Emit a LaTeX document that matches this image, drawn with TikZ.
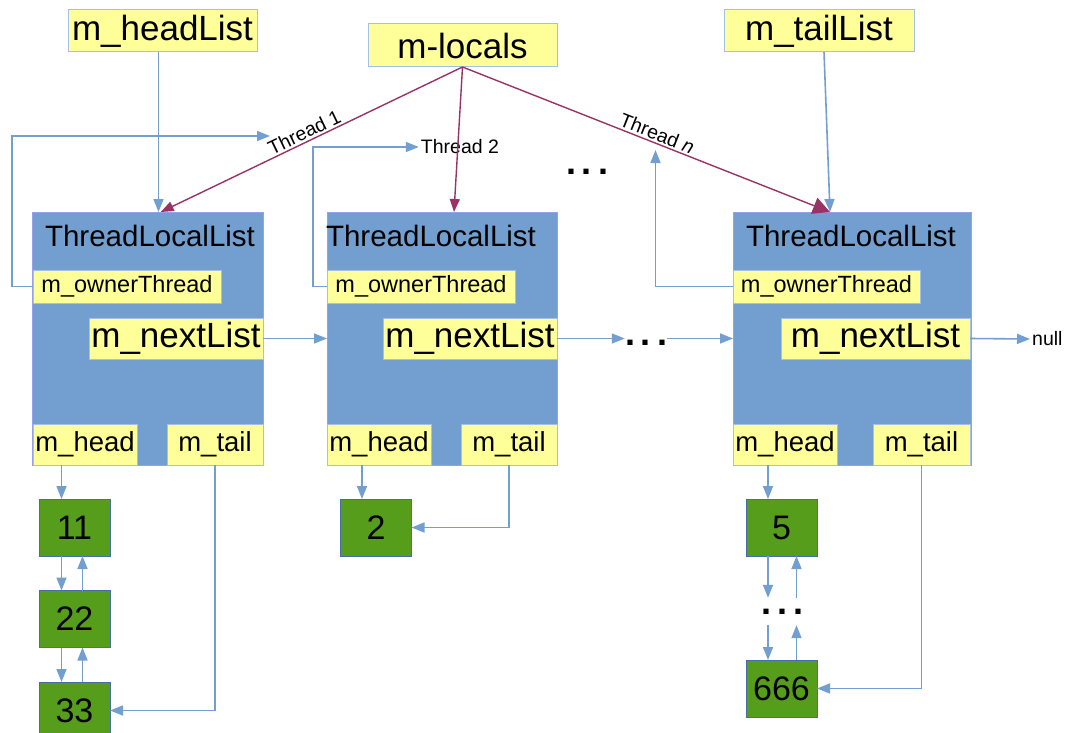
\documentclass[tikz,border=0pt]{standalone}
\usepackage{fontspec}
\setmainfont{Liberation Sans}
\usetikzlibrary{arrows.meta}

\definecolor{fieldyellow}{RGB}{255,255,153}
\definecolor{fieldedge}{RGB}{166,192,229}
\definecolor{boxblue}{RGB}{114,159,207}
\definecolor{boxedge}{RGB}{150,160,235}
\definecolor{valgreen}{RGB}{87,157,28}
\definecolor{valedge}{RGB}{70,110,170}
\definecolor{linkblue}{RGB}{114,159,207}
\definecolor{threadred}{RGB}{153,51,102}

\tikzset{
  field/.style={draw=fieldedge, fill=fieldyellow, line width=1pt, inner sep=0pt, outer sep=0pt},
  bigtext/.style={font=\fontsize{35}{40}\selectfont},
  listbox/.style={draw=boxedge, fill=boxblue, line width=1pt, inner sep=0pt, outer sep=0pt, minimum height=253},
  valbox/.style={draw=valedge, fill=valgreen, line width=1pt, minimum width=71, minimum height=57,
    inner sep=0pt, outer sep=0pt, font=\fontsize{34}{40}\selectfont},
  link/.style={draw=linkblue, line width=1.6pt, -{Triangle[length=13pt,width=10pt]}},
  thr/.style={draw=threadred, line width=1.4pt, -{Triangle[length=13pt,width=10pt]}},
  tlabel/.style={font=\fontsize{19.5}{22}\selectfont, inner sep=2pt},
  moredots/.style={font=\fontsize{36}{40}\selectfont\bfseries, inner sep=0pt}
}

\begin{document}
\begin{tikzpicture}[x=1pt,y=-1pt]
\useasboundingbox (0,0) rectangle (1068,733);

% lists of the threads
\node[listbox, minimum width=231.5] (tll1) at (147.75,338.5) {};
\node[listbox, minimum width=230] (tll2) at (442,338.5) {};
\node[listbox, minimum width=238] (tll3) at (852,338.5) {};

\node[font=\fontsize{29.5}{34}\selectfont] (title1) at (150,236) {ThreadLocalList};
\node[font=\fontsize{29.5}{34}\selectfont] (title2) at (431,236) {ThreadLocalList};
\node[font=\fontsize{29.5}{34}\selectfont] (title3) at (851,236) {ThreadLocalList};

% fields
\node[field, font=\fontsize{23.5}{28}\selectfont, minimum width=188, minimum height=33] (own1) at (127,286.5) {m\_ownerThread};
\node[field, font=\fontsize{23.5}{28}\selectfont, minimum width=188, minimum height=33] (own2) at (421,286.5) {m\_ownerThread};
\node[field, font=\fontsize{23.5}{28}\selectfont, minimum width=187, minimum height=33] (own3) at (826.5,286.5) {m\_ownerThread};

\node[field, bigtext, minimum width=174, minimum height=41] (next1) at (176,338.5) {m\_nextList};
\node[field, bigtext, minimum width=174, minimum height=41] (next2) at (470,338.5) {m\_nextList};
\node[field, bigtext, minimum width=189, minimum height=41] (next3) at (875.5,338.5) {m\_nextList};

\node[field, font=\fontsize{27.5}{32}\selectfont, minimum width=104, minimum height=41] (head1) at (85,444.5) {m\_head};
\node[field, font=\fontsize{27.5}{32}\selectfont, minimum width=96, minimum height=41] (tail1) at (215,444.5) {m\_tail};
\node[field, font=\fontsize{27.5}{32}\selectfont, minimum width=104, minimum height=41] (head2) at (379,444.5) {m\_head};
\node[field, font=\fontsize{27.5}{32}\selectfont, minimum width=96, minimum height=41] (tail2) at (509,444.5) {m\_tail};
\node[field, font=\fontsize{27.5}{32}\selectfont, minimum width=104, minimum height=41] (head3) at (785,444.5) {m\_head};
\node[field, font=\fontsize{27.5}{32}\selectfont, minimum width=97, minimum height=41] (tail3) at (921.5,444.5) {m\_tail};

% top pointers
\node[field, bigtext, minimum width=189, minimum height=42] (headlist) at (162.5,31) {m\_headList};
\node[field, bigtext, minimum width=189, minimum height=43] (mlocals) at (462.5,45.5) {m-locals};
\node[field, bigtext, minimum width=190, minimum height=42] (taillist) at (819,31) {m\_tailList};

% values
\node[valbox] (v11) at (74.5,527.5) {11};
\node[valbox] (v22) at (74.5,619) {22};
\node[valbox] (v33) at (74.5,710.5) {33};
\node[valbox] (v2) at (376,527.5) {2};
\node[valbox] (v5) at (781.5,527.5) {5};
\node[moredots, minimum height=27] (cdots) at (782.25,611.5) {.\,.\,.};
\node[valbox] (v666) at (781.5,688.5) {666};

\node[moredots] (tdots) at (587,172) {.\,.\,.};
\node[moredots] (mdots) at (646,343) {.\,.\,.};
\node[tlabel, anchor=west] (null) at (1030,339) {null};
\node[tlabel] (thr2) at (460,147) {Thread 2};
\coordinate (own1end) at (270,136);
\coordinate (ownNend) at (655.5,150);

% owner threads
\draw[link] (own1.west) -- ++(-21,0) |- (own1end);
\draw[link] (own2.west) -- ++(-14,0) |- (thr2.west);
\draw[link] (own3.west) -| (ownNend);

% m-locals
\draw[thr] (mlocals.south) -- node[tlabel, sloped, above, pos=0.51] (thr1) {Thread 1} ([xshift=13]tll1.north);
\draw[thr] (mlocals.south) -- ([xshift=12]tll2.north);
\draw[thr, -{Triangle[length=17pt,width=17pt]}] (mlocals.south) -- node[tlabel, sloped, above, pos=0.52] (thrn) {Thread \textit{n}} ([xshift=-22]tll3.north);

% head and tail of the list of lists
\draw[link] ([xshift=-4]headlist.south) -- ([xshift=-4]headlist.south |- tll1.north);
\draw[link] ([xshift=5]taillist.south) -- ([xshift=-22]tll3.north);

% next lists
\draw[link] (next1.east) -- (tll2.west);
\draw[link] (next2.east) -- (next2.east -| mdots.west);
\draw[link] (next2.east -| mdots.east) -- (tll3.west);
\draw[link] (next3.east) -- (null.west);

% thread 1
\draw[link] ([xshift=-13]v11.north |- head1.south) -- ([xshift=-13]v11.north);
\draw[link] ([xshift=-13]v11.south) -- ([xshift=-13]v22.north);
\draw[link] ([xshift=8]v22.north) -- ([xshift=8]v11.south);
\draw[link] ([xshift=-13]v22.south) -- ([xshift=-13]v33.north);
\draw[link] ([xshift=8]v33.north) -- ([xshift=8]v22.south);
\draw[link] (tail1.south) |- (v33.east);

% thread 2
\draw[link] ([xshift=-14]v2.north |- head2.south) -- ([xshift=-14]v2.north);
\draw[link] (tail2.south) |- (v2.east);

% thread n
\draw[link] ([xshift=-13.5]v5.north |- head3.south) -- ([xshift=-13.5]v5.north);
\draw[link] ([xshift=-13.5]v5.south) -- ([xshift=-13.5]v5.south |- cdots.north);
\draw[link] ([xshift=15]v5.south |- cdots.north) -- ([xshift=15]v5.south);
\draw[link] ([xshift=-13.5]v666.north |- cdots.south) -- ([xshift=-13.5]v666.north);
\draw[link] ([xshift=15]v666.north) -- ([xshift=15]v666.north |- cdots.south);
\draw[link] (tail3.south) |- (v666.east);
\end{tikzpicture}
\end{document}
